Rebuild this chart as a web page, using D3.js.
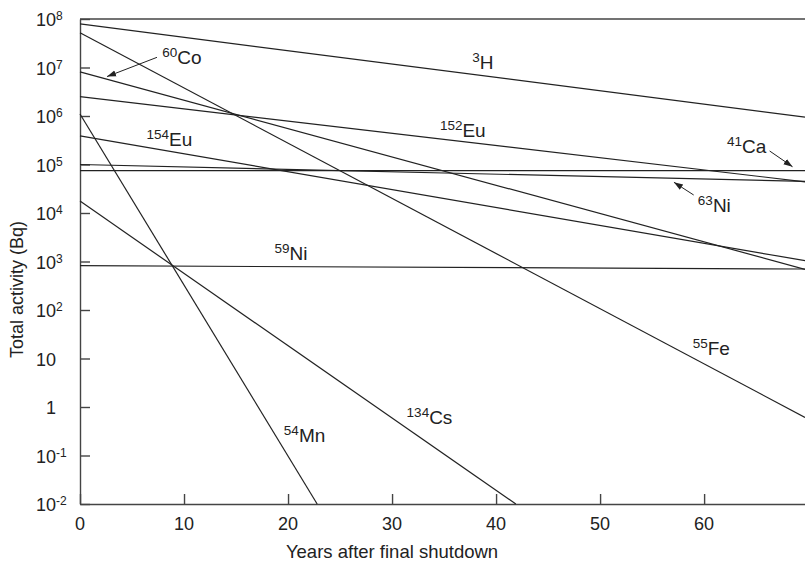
<!DOCTYPE html>
<html>
<head>
<meta charset="utf-8">
<script src="https://cdn.jsdelivr.net/npm/d3@7"></script>
<style>
    body { margin: 0; background: #fff; }
    svg { display: block; font-family: "Liberation Sans", Arial, Helvetica, sans-serif; }
</style>
</head>
<body>
<svg id="chart"></svg>
<script>
// nuclide decay lines (start at shutdown, end where the line leaves the frame)
const massNumbers   = ["3", "60", "152", "154", "41", "63", "59", "55", "134", "54"];
const symbols       = ["H", "Co", "Eu", "Eu", "Ca", "Ni", "Ni", "Fe", "Cs", "Mn"];
const startYears    = [0, 0, 0, 0, 0, 0, 0, 0, 0, 0];
const startActivity = [7.9e7, 8.1e6, 2.5e6, 3.9e5, 7.5e4, 1.0e5, 8.2e2, 5.2e7, 1.76e4, 1.1e6];
const endYears      = [69.7, 69.7, 69.7, 69.7, 69.7, 69.7, 69.7, 69.7, 41.9, 22.8];
const endActivity   = [9.5e5, 6.9e2, 4.4e4, 1.04e3, 7.5e4, 4.5e4, 7.0e2, 0.61, 0.01, 0.01];

// axis ticks
const xTicks = [0, 10, 20, 30, 40, 50, 60];
const yTickExponents = [-2, -1, 0, 1, 2, 3, 4, 5, 6, 7, 8];

// label anchors (year, activity) for each nuclide, same order as above
const labelYears    = [37.7, 7.9, 34.6, 6.4, 62.2, 59.4, 18.7, 58.9, 31.4, 19.6];
const labelActivity = [9.3e6, 1.16e7, 3.7e5, 2.4e5, 1.75e5, 1.03e4, 1.07e3, 11.8, 0.44, 0.19];

// pointer arrows: [fromYear, fromActivity, toYear, toActivity]
const arrows = [
    [7.4, 1.62e7, 2.6, 6.5e6],   // 60Co
    [66.3, 1.9e5, 68.5, 9.0e4],  // 41Ca
    [59.0, 2.35e4, 57.1, 4.3e4]  // 63Ni
];

class DecayChart {
    constructor(_config) {
        this.config = {
            parentElement: _config.parentElement,
            containerWidth: _config.containerWidth || 805,
            containerHeight: _config.containerHeight || 561,
            margin: _config.margin || {top: 19, right: 0, bottom: 57, left: 80}
        };
        this.initVis();
    }

    initVis() {
        let vis = this;
        vis.width = vis.config.containerWidth - vis.config.margin.left - vis.config.margin.right;
        vis.height = vis.config.containerHeight - vis.config.margin.top - vis.config.margin.bottom;

        vis.xScale = d3.scaleLinear().domain([0, 69.7]).range([0, vis.width]);
        vis.yScale = d3.scaleLog().domain([1e-2, 1e8]).range([vis.height, 0]);

        vis.svg = d3.select(vis.config.parentElement)
            .attr('width', vis.config.containerWidth)
            .attr('height', vis.config.containerHeight);

        vis.svg.append('defs').append('marker')
            .attr('id', 'arrowhead')
            .attr('viewBox', '0 0 10 10')
            .attr('refX', 10).attr('refY', 5)
            .attr('markerWidth', 9).attr('markerHeight', 9)
            .attr('markerUnits', 'userSpaceOnUse')
            .attr('orient', 'auto')
            .append('path')
            .attr('d', 'M0,1.5 L10,5 L0,8.5 Z')
            .attr('fill', '#222');

        vis.chart = vis.svg.append('g')
            .attr('transform', `translate(${vis.config.margin.left},${vis.config.margin.top})`);

        vis.renderVis();
    }

    renderVis() {
        let vis = this;
        const ink = '#222';

        // axes with inward ticks, labels drawn separately for the superscripts
        const xAxis = d3.axisBottom(vis.xScale).tickValues(xTicks)
            .tickSizeInner(-10).tickSizeOuter(0).tickFormat('');
        const yAxis = d3.axisLeft(vis.yScale).tickValues(yTickExponents.map(e => Math.pow(10, e)))
            .tickSizeInner(-10).tickSizeOuter(0).tickFormat('');

        const xG = vis.chart.append('g').attr('transform', `translate(0,${vis.height})`).call(xAxis);
        const yG = vis.chart.append('g').call(yAxis);
        [xG, yG].forEach(g => {
            g.selectAll('path, line').attr('stroke', '#444').attr('stroke-width', 1.4);
        });

        // top border
        vis.chart.append('line')
            .attr('x1', 0).attr('x2', vis.width)
            .attr('y1', 0).attr('y2', 0)
            .attr('stroke', '#444').attr('stroke-width', 1.4);

        // x tick labels
        vis.chart.selectAll('.x-label')
            .data(xTicks)
            .join('text')
            .attr('class', 'x-label')
            .attr('x', d => vis.xScale(d))
            .attr('y', vis.height + 26)
            .attr('text-anchor', 'middle')
            .attr('font-size', 18)
            .attr('fill', ink)
            .text(d => d);

        // y tick labels: "1", "10", else 10 with exponent
        const yl = vis.chart.selectAll('.y-label')
            .data(yTickExponents)
            .join('g')
            .attr('class', 'y-label')
            .attr('transform', d => `translate(-24,${vis.yScale(Math.pow(10, d)) + 7})`);
        yl.append('text')
            .attr('text-anchor', 'end')
            .attr('font-size', 18)
            .attr('fill', ink)
            .text(d => d === 0 ? '1' : '10');
        yl.filter(d => d !== 0 && d !== 1).append('text')
            .attr('y', -6)
            .attr('font-size', 12)
            .attr('fill', ink)
            .text(d => d);

        // axis titles
        vis.chart.append('text')
            .attr('x', vis.xScale(30))
            .attr('y', vis.height + 54)
            .attr('text-anchor', 'middle')
            .attr('font-size', 18.5)
            .attr('fill', ink)
            .text('Years after final shutdown');

        vis.chart.append('text')
            .attr('transform', `translate(${23 - vis.config.margin.left},${358 - vis.config.margin.top}) rotate(-90)`)
            .attr('text-anchor', 'start')
            .attr('font-size', 18)
            .attr('fill', ink)
            .text('Total activity (Bq)');

        // decay lines
        const lines = massNumbers.map((m, i) => ({
            x1: startYears[i], y1: startActivity[i],
            x2: endYears[i], y2: endActivity[i]
        }));
        vis.chart.selectAll('.decay')
            .data(lines)
            .join('line')
            .attr('class', 'decay')
            .attr('x1', d => vis.xScale(d.x1))
            .attr('y1', d => vis.yScale(d.y1))
            .attr('x2', d => vis.xScale(d.x2))
            .attr('y2', d => vis.yScale(d.y2))
            .attr('stroke', ink)
            .attr('stroke-width', 1.2);

        // nuclide labels
        const lab = vis.chart.selectAll('.nuclide')
            .data(massNumbers.map((m, i) => ({mass: m, sym: symbols[i], x: labelYears[i], y: labelActivity[i]})))
            .join('text')
            .attr('class', 'nuclide')
            .attr('x', d => vis.xScale(d.x))
            .attr('y', d => vis.yScale(d.y))
            .attr('fill', ink)
            .attr('font-size', 19);
        lab.append('tspan')
            .attr('font-size', 13.5)
            .attr('dy', -7)
            .text(d => d.mass);
        lab.append('tspan')
            .attr('dy', 7)
            .text(d => d.sym);

        // arrows
        vis.chart.selectAll('.pointer')
            .data(arrows)
            .join('line')
            .attr('class', 'pointer')
            .attr('x1', d => vis.xScale(d[0]))
            .attr('y1', d => vis.yScale(d[1]))
            .attr('x2', d => vis.xScale(d[2]))
            .attr('y2', d => vis.yScale(d[3]))
            .attr('stroke', ink)
            .attr('stroke-width', 1)
            .attr('marker-end', 'url(#arrowhead)');
    }
}

new DecayChart({parentElement: '#chart'});
</script>
</body>
</html>
